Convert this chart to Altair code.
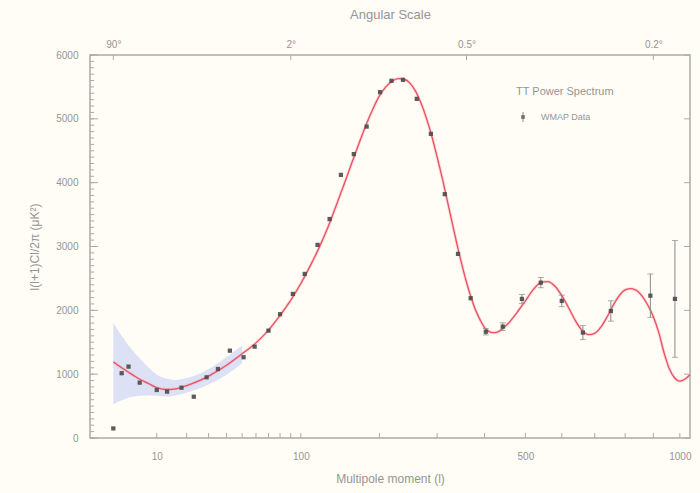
import altair as alt
import pandas as pd

# WMAP binned data (multipole l, l(l+1)Cl/2pi in uK^2, error)
data_l = [2, 3, 4, 6, 10, 13, 18, 23, 29, 35, 42, 51, 59, 70, 80, 92, 104, 118, 132, 146,
          163, 181, 201, 219, 238, 262, 288, 315, 342, 369, 403, 443, 491, 541, 600, 663,
          752, 889, 981]
data_v = [150, 1015, 1118, 867, 752, 726, 788, 647, 951, 1081, 1368, 1265, 1431, 1682, 1939,
          2257, 2570, 3025, 3430, 4122, 4447, 4879, 5418, 5596, 5611, 5313, 4765, 3820, 2884,
          2190, 1665, 1745, 2179, 2434, 2147, 1651, 1990, 2230, 2179]
data_err = [0, 0, 0, 0, 0, 0, 0, 0, 0, 0, 0, 0, 0, 0, 0, 0, 0, 0, 0, 0,
            0, 0, 0, 0, 0, 0, 0, 0, 0, 0, 50, 60, 70, 80, 90, 110,
            160, 340, 915]

# Model TT power spectrum
curve_l = [2, 3, 4, 5, 6, 8, 10, 13, 16, 20, 25, 30, 40, 50, 60, 70, 80, 90, 100, 110,
           120, 130, 140, 150, 160, 170, 180, 190, 200, 210, 220, 230, 240, 250, 260, 270,
           280, 290, 300, 310, 320, 330, 340, 350, 360, 370, 380, 390, 400, 410, 420, 430,
           440, 460, 480, 500, 520, 540, 560, 580, 600, 620, 640, 660, 680, 700, 720, 740,
           760, 780, 800, 820, 840, 860, 880, 900, 920, 940, 960, 980, 1000, 1020, 1040]
curve_v = [1190, 1100, 1030, 970, 920, 850, 790, 760, 770, 820, 890, 970, 1140, 1320, 1490,
           1690, 1920, 2160, 2420, 2700, 2990, 3300, 3640, 3970, 4300, 4610, 4900, 5150, 5360,
           5500, 5590, 5630, 5620, 5560, 5430, 5240, 5000, 4720, 4400, 4070, 3720, 3370, 3030,
           2720, 2440, 2200, 2000, 1850, 1730, 1670, 1650, 1660, 1700, 1820, 1980, 2150, 2320,
           2430, 2450, 2380, 2230, 2040, 1840, 1690, 1620, 1640, 1740, 1900, 2080, 2230, 2320,
           2340, 2310, 2220, 2080, 1900, 1650, 1330, 1080, 940, 890, 920, 990]

# Cosmic variance band at low l
band_l = [2, 3, 4, 5, 6, 8, 10, 13, 16, 20, 25, 30, 40, 50]
band_lo = [530, 590, 630, 650, 660, 665, 660, 650, 670, 710, 770, 840, 990, 1170]
band_hi = [1800, 1600, 1450, 1340, 1250, 1100, 990, 930, 910, 940, 1000, 1080, 1270, 1450]

# Axis ticks
bottom_ticks = [10, 20, 30, 40, 50, 60, 70, 80, 90, 100, 200, 300, 400, 500, 600, 700, 800, 900, 1000]
bottom_labels = [10, 100, 500, 1000]
top_ticks = [2, 90, 360, 900]
top_labels = ["90°", "2°", "0.5°", "0.2°"]
y_minor = list(range(0, 6001, 100))
y_major = [0, 1000, 2000, 3000, 4000, 5000, 6000]

W, H = 600, 383
FONT = "Liberation Sans"
TXT = "#959595"
AX = "#aaaaaa"

xscale = alt.Scale(type="pow", exponent=0.42, domain=[0.35, 1040], nice=False, zero=False)
yscale = alt.Scale(domain=[0, 6000], nice=False, zero=False)

pts = pd.DataFrame({"l": data_l, "v": data_v, "err": data_err})
pts["lo"] = pts["v"] - pts["err"]
pts["hi"] = pts["v"] + pts["err"]
errs = pts[pts["err"] > 0]
curve = pd.DataFrame({"l": curve_l, "v": curve_v})
band = pd.DataFrame({"l": band_l, "lo": band_lo, "hi": band_hi})

band_layer = alt.Chart(band).mark_area(color="#d0d7f6", opacity=0.75, interpolate="monotone").encode(
    x=alt.X("l:Q", scale=xscale, axis=None),
    y=alt.Y("lo:Q", scale=yscale, axis=None),
    y2="hi:Q",
)

curve_glow = alt.Chart(curve).mark_line(color="#f6a8b2", strokeWidth=3, opacity=0.45, interpolate="monotone").encode(
    x=alt.X("l:Q", scale=xscale, axis=None),
    y=alt.Y("v:Q", scale=yscale, axis=None),
)
curve_layer = alt.Chart(curve).mark_line(color="#ea5063", strokeWidth=1.3, interpolate="monotone").encode(
    x=alt.X("l:Q", scale=xscale, axis=None),
    y=alt.Y("v:Q", scale=yscale, axis=None),
)

err_rule = alt.Chart(errs).mark_rule(color="#8a8a8a", strokeWidth=1).encode(
    x=alt.X("l:Q", scale=xscale, axis=None),
    y=alt.Y("lo:Q", scale=yscale, axis=None),
    y2="hi:Q",
)
cap_lo = alt.Chart(errs).mark_tick(color="#8a8a8a", orient="horizontal", size=6, thickness=1).encode(
    x=alt.X("l:Q", scale=xscale, axis=None),
    y=alt.Y("lo:Q", scale=yscale, axis=None),
)
cap_hi = alt.Chart(errs).mark_tick(color="#8a8a8a", orient="horizontal", size=6, thickness=1).encode(
    x=alt.X("l:Q", scale=xscale, axis=None),
    y=alt.Y("hi:Q", scale=yscale, axis=None),
)

points_layer = alt.Chart(pts).mark_point(shape="square", filled=True, size=18, color="#4a4a4a", opacity=0.9).encode(
    x=alt.X("l:Q", scale=xscale, axis=alt.Axis(
        orient="bottom", values=bottom_labels, format="d", ticks=False, domain=False, grid=False,
        labelFont=FONT, labelFontSize=10, labelColor=TXT, labelPadding=13,
        title="Multipole moment (l)", titleFont=FONT, titleFontSize=12, titleFontWeight="normal",
        titleColor=TXT, titlePadding=12)),
    y=alt.Y("v:Q", scale=yscale, axis=alt.Axis(
        orient="left", values=y_major, format="d", ticks=False, domain=False, grid=False,
        labelFont=FONT, labelFontSize=10, labelColor=TXT, labelPadding=12,
        title="l(l+1)Cl/2π (μK²)", titleFont=FONT, titleFontSize=12, titleFontWeight="normal",
        titleColor=TXT, titlePadding=14)),
)

top_expr = " : ".join(
    f"datum.value == {v} ? '{t}'" for v, t in zip(top_ticks, top_labels)
) + " : ''"
top_layer = alt.Chart(pd.DataFrame({"l": top_ticks})).mark_rule(color=AX, strokeWidth=1).encode(
    x=alt.X("l:Q", scale=xscale, axis=alt.Axis(
        orient="top", values=top_ticks, labelExpr=top_expr, ticks=False, domain=False, grid=False,
        labelFont=FONT, labelFontSize=10, labelColor=TXT, labelPadding=6,
        title="Angular Scale", titleFont=FONT, titleFontSize=13, titleFontWeight="normal",
        titleColor=TXT, titlePadding=18)),
    y=alt.value(0),
    y2=alt.value(5),
)

bottom_tick_layer = alt.Chart(pd.DataFrame({"l": bottom_ticks})).mark_rule(color=AX, strokeWidth=1).encode(
    x=alt.X("l:Q", scale=xscale, axis=None),
    y=alt.value(H),
    y2=alt.value(H - 5),
)

ymin_df = pd.DataFrame({"v": y_minor})
ymaj_df = pd.DataFrame({"v": y_major})
left_minor = alt.Chart(ymin_df).mark_rule(color=AX, strokeWidth=1).encode(
    y=alt.Y("v:Q", scale=yscale, axis=None),
    x=alt.value(0),
    x2=alt.value(4),
)
left_major = alt.Chart(ymaj_df).mark_rule(color=AX, strokeWidth=1).encode(
    y=alt.Y("v:Q", scale=yscale, axis=None),
    x=alt.value(0),
    x2=alt.value(8),
)
right_major = alt.Chart(ymaj_df).mark_rule(color=AX, strokeWidth=1).encode(
    y=alt.Y("v:Q", scale=yscale, axis=None),
    x=alt.value(W),
    x2=alt.value(W - 6),
)

# Legend
leg1 = alt.Chart(pd.DataFrame({"t": ["TT Power Spectrum"]})).mark_text(
    font=FONT, fontSize=11, color=TXT, align="left", baseline="middle").encode(
    text="t:N", x=alt.value(426), y=alt.value(37))
leg2 = alt.Chart(pd.DataFrame({"t": ["WMAP Data"]})).mark_text(
    font=FONT, fontSize=9, color=TXT, align="left", baseline="middle").encode(
    text="t:N", x=alt.value(451), y=alt.value(62))
leg_bar = alt.Chart(pd.DataFrame({"a": [0]})).mark_rule(color="#8a8a8a").encode(
    x=alt.value(433), y=alt.value(57), y2=alt.value(67))
leg_pt = alt.Chart(pd.DataFrame({"a": [0]})).mark_point(shape="square", filled=True, size=14, color="#4a4a4a").encode(
    x=alt.value(433), y=alt.value(62))

chart = alt.layer(
    band_layer, curve_glow, curve_layer, err_rule, cap_lo, cap_hi, points_layer,
    top_layer, bottom_tick_layer, left_minor, left_major, right_major,
    leg1, leg2, leg_bar, leg_pt,
).resolve_axis(x="independent", y="independent").properties(
    width=W, height=H,
    background="#fffdf5",
    padding={"left": 90, "top": 55, "right": 10, "bottom": 55},
    autosize=alt.AutoSizeParams(type="none"),
).configure_view(stroke=AX, strokeWidth=1.5)

chart.save("out.html", embed_options={"renderer": "svg", "actions": False})
